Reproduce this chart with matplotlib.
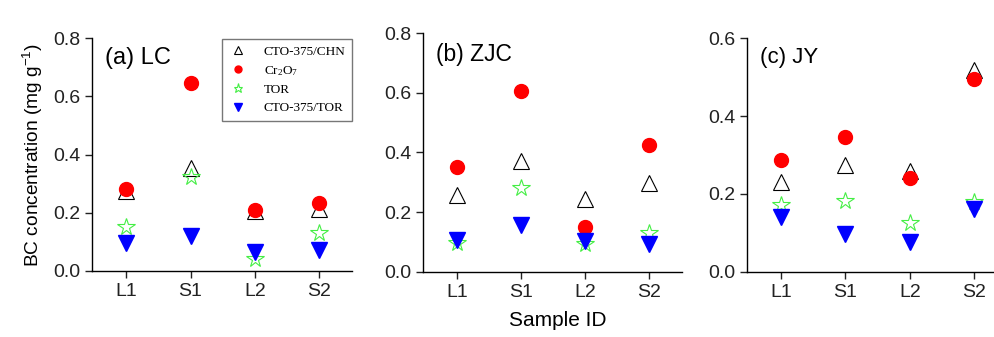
import numpy as np
import matplotlib.pyplot as plt

plt.rcParams['font.family'] = ['Liberation Sans', 'DejaVu Sans']

samples = ['L1', 'S1', 'L2', 'S2']

# panel (a) LC
lc_chn = [0.274, 0.352, 0.206, 0.214]
lc_cr = [0.282, 0.646, 0.209, 0.232]
lc_tor = [0.150, 0.322, 0.042, 0.129]
lc_ctotor = [0.096, 0.121, 0.066, 0.073]

# panel (b) ZJC
zjc_chn = [0.257, 0.373, 0.244, 0.299]
zjc_cr = [0.352, 0.606, 0.149, 0.425]
zjc_tor = [0.098, 0.280, 0.095, 0.129]
zjc_ctotor = [0.106, 0.157, 0.104, 0.094]

# panel (c) JY
jy_chn = [0.230, 0.275, 0.260, 0.518]
jy_cr = [0.288, 0.347, 0.242, 0.496]
jy_tor = [0.172, 0.182, 0.125, 0.180]
jy_ctotor = [0.140, 0.097, 0.077, 0.162]

fig = plt.figure(figsize=(9.94, 3.37), dpi=100)

panels = [
    ([0.0926, 0.196, 0.2616, 0.691], lc_chn, lc_cr, lc_tor, lc_ctotor, 0.8, '(a) LC', 17),
    ([0.4256, 0.193, 0.2606, 0.709], zjc_chn, zjc_cr, zjc_tor, zjc_ctotor, 0.8, '(b) ZJC', 16.5),
    ([0.7515, 0.193, 0.2616, 0.694], jy_chn, jy_cr, jy_tor, jy_ctotor, 0.6, '(c) JY', 16),
]

x = np.arange(1, len(samples) + 1)
axes = []
for pos, chn, cr, tor, ctotor, ymax, title, tsize in panels:
    ax = fig.add_axes(pos)
    ax.plot(x, chn, ls='none', marker='^', ms=11, mfc='none', mec='black', mew=0.8,
            label='CTO-375/CHN')
    ax.plot(x, cr, ls='none', marker='o', ms=10, color='#ff0000', mec='#ff0000',
            label=r'Cr$\mathregular{_2}$O$\mathregular{_7}$')
    ax.plot(x, tor, ls='none', marker='*', ms=13, mfc='none', mec='#44ee44', mew=0.8,
            label='TOR')
    ax.plot(x, ctotor, ls='none', marker='v', ms=11, color='#0000ff', mec='#0000ff',
            label='CTO-375/TOR')
    ax.set_xlim(0.47, 4.51)
    ax.set_ylim(0, ymax)
    ax.set_yticks(np.arange(0, ymax + 0.01, 0.2))
    ax.set_yticklabels(['%.1f' % v for v in np.arange(0, ymax + 0.01, 0.2)])
    ax.set_xticks(x)
    ax.set_xticklabels(samples)
    ax.spines['top'].set_visible(False)
    ax.spines['right'].set_visible(False)
    ax.spines['left'].set_linewidth(1.0)
    ax.spines['bottom'].set_linewidth(1.0)
    ax.tick_params(labelsize=14, length=5, width=1.0, colors='#222222')
    ax.text(0.05, 0.96, title, transform=ax.transAxes, fontsize=tsize,
            va='top', ha='left')
    axes.append(ax)

axes[0].set_ylabel(r'BC concentration (mg g$\mathregular{^{-1}}$)', fontsize=13.8,
                   labelpad=6)
axes[0].legend(loc='upper right', bbox_to_anchor=(1.0, 0.995), borderaxespad=0,
               prop={'family': 'Liberation Serif', 'size': 9.5}, markerscale=0.5,
               fancybox=False, edgecolor='#777777', framealpha=1,
               handlelength=1.5, labelspacing=0.45, handletextpad=1.2,
               borderpad=0.5)

fig.text(0.561, 0.02, 'Sample ID', ha='center', va='bottom', fontsize=15)

fig.savefig('out.png', dpi=100)
